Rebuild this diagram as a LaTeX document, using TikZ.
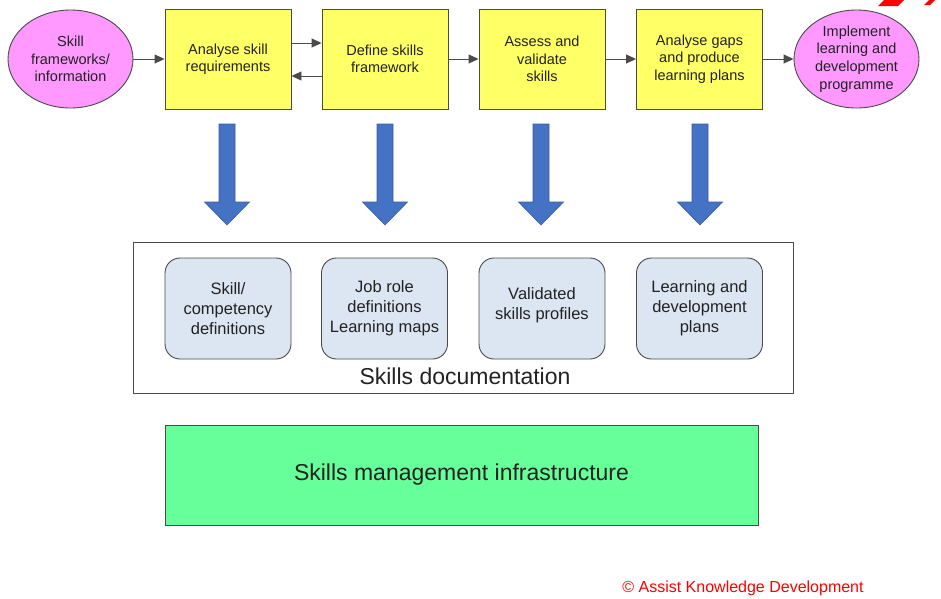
\documentclass[tikz,border=0pt]{standalone}
\usepackage{fontspec}
\setmainfont{Liberation Sans}
\usetikzlibrary{arrows.meta,shapes.geometric}
\definecolor{procyellow}{HTML}{FFFF66}
\definecolor{endpink}{HTML}{FF99FF}
\definecolor{infragreen}{HTML}{66FF99}
\definecolor{docblue}{HTML}{DCE6F2}
\definecolor{arrowblue}{HTML}{4472C4}
\definecolor{arrowedge}{HTML}{3A5E9C}
\definecolor{txt}{HTML}{222222}
\definecolor{edge}{HTML}{4A4A4A}
\definecolor{copyred}{HTML}{FF0000}
\begin{document}
\begin{tikzpicture}[x=1pt,y=-1pt,
  every node/.style={text=txt, align=center, inner sep=0pt},
  procbox/.style={draw=edge, line width=0.9pt, fill=procyellow, minimum width=126pt, minimum height=100pt,
    font=\fontsize{14.5pt}{17.5pt}\selectfont},
  endpoint/.style={ellipse, draw=edge, line width=0.9pt, fill=endpink, minimum width=125pt, minimum height=98pt,
    font=\fontsize{14.5pt}{17.8pt}\selectfont},
  docbox/.style={draw=edge, line width=0.9pt, fill=docblue, rounded corners=15pt, minimum width=126pt, minimum height=101pt,
    font=\fontsize{16.5pt}{20pt}\selectfont},
  flow/.style={-{Triangle[length=10pt,width=9pt]}, line width=0.9pt, draw=edge},
  blockarrow/.style={fill=arrowblue, draw=arrowedge, line width=0.6pt, line join=miter}
]
\useasboundingbox (0,0) rectangle (941,598);

% top row
\node[endpoint] (src) at (70.5,59) {Skill\\frameworks/\\information};
\node[procbox] (asr) at (228,59) {Analyse skill\\requirements};
\node[procbox] (dsf) at (385,59) {Define skills\\framework};
\node[procbox] (avs) at (542,59) {Assess and\\validate\\skills};
\node[procbox] (agp) at (699.5,59) {Analyse gaps\\and produce\\learning plans};
\node[endpoint] (impl) at (856.5,59) {Implement\\learning and\\development\\programme};

\draw[flow] (src.east) -- (asr.west);
\draw[flow] ([yshift=16pt]asr.east) -- ([yshift=16pt]dsf.west);
\draw[flow] ([yshift=-17pt]dsf.west) -- ([yshift=-17pt]asr.east);
\draw[flow] (dsf.east) -- (avs.west);
\draw[flow] (avs.east) -- (agp.west);
\draw[flow] (agp.east) -- (impl.west);

% block arrows
\foreach \cx in {227,385,541,700}{
  \draw[blockarrow] (\cx-8,124) -- (\cx+8,124) -- (\cx+8,202) -- (\cx+22.5,202) -- (\cx,225)
    -- (\cx-22.5,202) -- (\cx-8,202) -- cycle;
}

% documentation
\node[draw=edge, line width=0.9pt, minimum width=660pt, minimum height=151pt] (docs) at (463,317.5) {};
\node[font=\fontsize{23pt}{27pt}\selectfont] (docslabel) at (465,376) {Skills documentation};
\node[docbox] (d1) at (228,308.5) {Skill/\\competency\\definitions};
\node[docbox] (d2) at (384.5,308.5) {Job role\\definitions\\Learning maps};
\node[docbox] (d3) at (542,308.5) {};
\node[font=\fontsize{16.5pt}{20pt}\selectfont] (d3text) at (542,305) {Validated\\skills profiles};
\node[docbox] (d4) at (699.5,308.5) {Learning and\\development\\plans};

% infrastructure
\node[draw=edge, line width=0.9pt, fill=infragreen, minimum width=593pt, minimum height=100pt,
  font=\fontsize{23pt}{27pt}\selectfont] (infra) at (461.5,475) {Skills management infrastructure};

% copyright
\node[text=copyred, font=\fontsize{16pt}{19pt}\selectfont] (copy) at (743,588) {© Assist Knowledge Development};

% logo fragments (cut off at top)
\fill[copyred] (878,6) -- (885,-1) -- (905,-1) -- (898,6) -- cycle;
\fill[copyred] (924,5) -- (930,-1) -- (936,-1) -- (930,5) -- cycle;
\end{tikzpicture}
\end{document}
